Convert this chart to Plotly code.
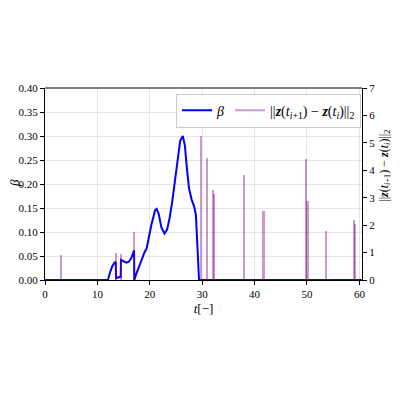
import plotly.graph_objects as go

# beta curve
t_beta = [0, 12.0, 12.4, 12.8, 13.2, 13.5, 13.55, 14.45, 14.5, 15.0, 15.5, 16.0, 16.5, 17.0, 17.05,
          17.5, 18.0, 18.5, 19.0, 19.4, 19.9, 20.3, 20.7, 21.0, 21.3, 21.7, 22.2, 22.8, 23.3, 23.8,
          24.3, 24.8, 25.3, 25.8, 26.3, 26.7, 27.1, 27.5, 28.0, 28.5, 28.8, 29.1, 29.4, 60.5]
beta = [0, 0, 0.015, 0.028, 0.035, 0.038, 0.004, 0.007, 0.042, 0.039, 0.036, 0.038, 0.046, 0.062, 0.0,
        0.015, 0.03, 0.045, 0.058, 0.066, 0.098, 0.115, 0.132, 0.145, 0.148, 0.138, 0.11, 0.097, 0.105, 0.13,
        0.165, 0.205, 0.25, 0.29, 0.30, 0.28, 0.23, 0.19, 0.167, 0.152, 0.135, 0.07, 0.0, 0]

# jump norms
t_jump = [3.0, 13.5, 14.5, 17.0, 29.7, 31.0, 32.0, 32.3, 37.9, 41.7, 49.8, 50.1, 53.7, 58.9, 59.2]
jump = [0.92, 0.98, 0.96, 1.75, 5.24, 4.43, 3.27, 3.15, 3.83, 2.53, 4.41, 2.88, 1.77, 2.17, 2.04]

FONT = "Liberation Serif"
jump_label = "||<b><i>z</i></b>(<i>t</i><sub><i>i</i>+1</sub>) − <b><i>z</i></b>(<i>t</i><sub><i>i</i></sub>)||<sub>2</sub>"

def f(size):
    return dict(family=FONT, size=size, color="black")

fig = go.Figure()
fig.add_trace(go.Bar(x=t_jump, y=jump, yaxis="y2", width=0.4,
                     marker=dict(color="rgba(128,0,128,0.4)", line=dict(width=0)),
                     showlegend=False))
fig.add_trace(go.Scatter(x=t_beta, y=beta, mode="lines", name="<i>β</i>",
                         line=dict(color="#0000ff", width=2)))
fig.add_trace(go.Scatter(x=[None], y=[None], mode="lines", name=jump_label,
                         line=dict(color="rgba(128,0,128,0.4)", width=2), yaxis="y2"))

axis_common = dict(showline=True, linecolor="black", linewidth=1, mirror=False,
                   ticks="outside", ticklen=4, tickcolor="black", zeroline=False,
                   tickfont=f(11), automargin=False)

fig.update_layout(
    width=392, height=392,
    margin=dict(l=37, r=38, t=80, b=120),
    paper_bgcolor="white", plot_bgcolor="white",
    font=f(11),
    bargap=0,
    xaxis=dict(range=[0, 60.5], dtick=10, tick0=0, showgrid=True, gridcolor="#e6e6e6",
               title=dict(text="<i>t</i>[−]", standoff=4, font=f(13)), **axis_common),
    yaxis=dict(range=[0, 0.4], dtick=0.05, tickformat=".2f", showgrid=True, gridcolor="#e6e6e6",
               **axis_common),
    yaxis2=dict(range=[0, 7], dtick=1, overlaying="y", side="right", showgrid=False,
                **axis_common),
    legend=dict(orientation="h", x=0.997, xanchor="right", y=0.97, yanchor="top",
                bgcolor="rgba(255,255,255,0.85)", bordercolor="#cccccc", borderwidth=1,
                font=f(14), itemwidth=30, tracegroupgap=0),
    annotations=[
        dict(text="<i>β</i>", xref="paper", yref="paper", x=-0.098, y=0.505,
             xanchor="center", yanchor="middle", textangle=-90, showarrow=False, font=f(13)),
        dict(text=jump_label, xref="paper", yref="paper", x=1.072, y=0.594,
             xanchor="center", yanchor="middle", textangle=-90, showarrow=False, font=f(12)),
    ],
    shapes=[dict(type="line", xref="paper", yref="paper", x0=0, x1=1, y0=1, y1=1,
                 line=dict(color="black", width=1))],
)

fig.write_html("out.html")
